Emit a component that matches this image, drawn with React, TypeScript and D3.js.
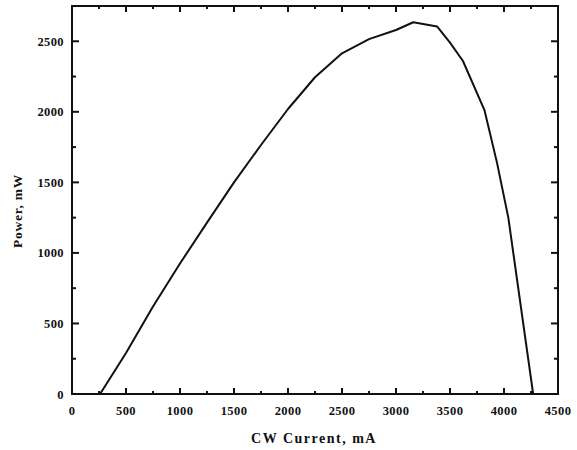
import React from "react";
import * as d3 from "d3";

const currentMA = [260, 500, 750, 1000, 1250, 1500, 1750, 2000, 2250, 2500, 2750, 3000, 3160, 3380, 3500, 3620, 3820, 3935, 4040, 4270];
const powerMW = [0, 290, 620, 925, 1215, 1500, 1765, 2020, 2245, 2415, 2515, 2580, 2635, 2605, 2490, 2360, 2010, 1640, 1250, 0];
const xTicks = [0, 500, 1000, 1500, 2000, 2500, 3000, 3500, 4000, 4500];
const yTicks = [0, 500, 1000, 1500, 2000, 2500];

export default function App() {
  const W = 577, H = 450;
  const L = 72, R = 558, T = 6, B = 394;
  const x = d3.scaleLinear().domain([0, 4500]).range([L, R]);
  const y = d3.scaleLinear().domain([0, 2750]).range([B, T]);
  const data = currentMA.map((c, i) => [c, powerMW[i]] as [number, number]);
  const line = d3.line<[number, number]>().x(d => x(d[0])).y(d => y(d[1]));
  const xMinor = d3.range(250, 4500, 500);
  const yMinor = d3.range(250, 2750, 500);
  const font = "'Liberation Serif', 'Times New Roman', serif";
  return (
    <svg width={W} height={H} style={{ position: "absolute", left: 0, top: 0, background: "#fff" }}>
      <rect x={0} y={0} width={W} height={H} fill="#fff" />
      <path d={line(data) || ""} fill="none" stroke="#111" strokeWidth={2} strokeLinejoin="round" />
      <rect x={L} y={T} width={R - L} height={B - T} fill="none" stroke="#111" strokeWidth={2} />
      {xTicks.map(t => (
        <g key={"x" + t}>
          <line x1={x(t)} x2={x(t)} y1={B} y2={B - 6} stroke="#111" strokeWidth={2} />
          <line x1={x(t)} x2={x(t)} y1={T} y2={T + 6} stroke="#111" strokeWidth={2} />
          <text x={x(t)} y={415} textAnchor="middle" fontFamily={font} fontWeight="bold" fontSize={12.5} letterSpacing={0.4} fill="#111">{t}</text>
        </g>
      ))}
      {xMinor.map(t => (
        <g key={"xm" + t}>
          <line x1={x(t)} x2={x(t)} y1={B} y2={B - 3} stroke="#111" strokeWidth={2} />
          <line x1={x(t)} x2={x(t)} y1={T} y2={T + 3} stroke="#111" strokeWidth={2} />
        </g>
      ))}
      {yTicks.map(t => (
        <g key={"y" + t}>
          <line x1={L} x2={L + 7} y1={y(t)} y2={y(t)} stroke="#111" strokeWidth={2} />
          <line x1={R} x2={R - 7} y1={y(t)} y2={y(t)} stroke="#111" strokeWidth={2} />
          <text x={64} y={y(t) + 4.5} textAnchor="end" fontFamily={font} fontWeight="bold" fontSize={12.5} letterSpacing={0.4} fill="#111">{t}</text>
        </g>
      ))}
      {yMinor.map(t => (
        <g key={"ym" + t}>
          <line x1={L} x2={L + 4} y1={y(t)} y2={y(t)} stroke="#111" strokeWidth={2} />
          <line x1={R} x2={R - 4} y1={y(t)} y2={y(t)} stroke="#111" strokeWidth={2} />
        </g>
      ))}
      <text x={314} y={443} textAnchor="middle" fontFamily={font} fontWeight="bold" fontSize={14} letterSpacing={1.5} fill="#111">CW Current, mA</text>
      <text transform="translate(22,211) rotate(-90)" textAnchor="middle" fontFamily={font} fontWeight="bold" fontSize={13.5} letterSpacing={0.8} fill="#111">Power, mW</text>
    </svg>
  );
}
